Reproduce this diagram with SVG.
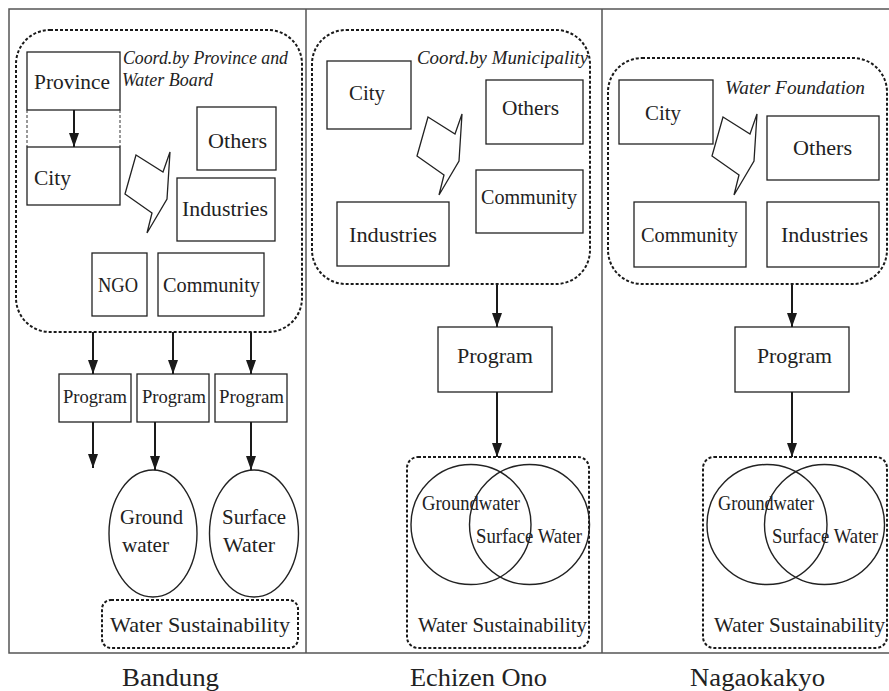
<svg xmlns="http://www.w3.org/2000/svg" width="889" height="691" viewBox="0 0 889 691" font-family="'Liberation Serif', serif">
  <defs>
    <style>
      .frame { fill: none; stroke: #555; stroke-width: 1.5; }
      .box { fill: #fff; stroke: #222; stroke-width: 1.3; }
      .group { fill: none; stroke: #1a1a1a; stroke-width: 2; stroke-dasharray: 3 2; }
      .guide { fill: none; stroke: #333; stroke-width: 1; stroke-dasharray: 3 2; }
      .bolt { fill: #fff; stroke: #222; stroke-width: 1.3; stroke-linejoin: miter; }
      .ring { fill: none; stroke: #222; stroke-width: 1.4; }
      .arrow { stroke: #1a1a1a; stroke-width: 2; fill: none; marker-end: url(#head); }
      text { font-family: 'Liberation Serif', serif; fill: #222; }
      .lbl { font-size: 21px; }
      .small { font-size: 18px; }
      .ital { font-size: 19px; font-style: italic; }
      .city { font-size: 25px; }
    </style>
    <marker id="head" viewBox="0 0 14 10" refX="14" refY="5" markerWidth="14" markerHeight="10" markerUnits="userSpaceOnUse" orient="auto">
      <path d="M0,0 L14,5 L0,10 z" fill="#1a1a1a"/>
    </marker>
    <!-- lightning-bolt symbol for interaction between stakeholders -->
    <polygon id="boltShape" class="bolt" points="136,155 163,172 170,152 167,199 147,233 152,213 125,194"/>
  </defs>

  <!-- outer frame and column dividers -->
  <g id="frame">
    <path class="frame" d="M889,9 H9 V653 H889"/>
    <line class="frame" x1="306" y1="9" x2="306" y2="653"/>
    <line class="frame" x1="602" y1="9" x2="602" y2="653"/>
  </g>

  <!-- ===== Bandung ===== -->
  <g id="bandung-coord">
    <rect class="group" x="16" y="30" width="286" height="302" rx="34" ry="34"/>
    <text class="ital" x="123" y="64" textLength="165" lengthAdjust="spacingAndGlyphs">Coord.by Province and</text>
    <text class="ital" x="122" y="86" textLength="91" lengthAdjust="spacingAndGlyphs">Water Board</text>
  </g>
  <g id="bandung-province">
    <rect class="box" x="27" y="52" width="93" height="58"/>
    <text class="lbl" x="34" y="89" textLength="76" lengthAdjust="spacingAndGlyphs">Province</text>
  </g>
  <g id="bandung-city">
    <line class="guide" x1="27" y1="110" x2="27" y2="147"/>
    <line class="guide" x1="120" y1="110" x2="120" y2="147"/>
    <rect class="box" x="27" y="147" width="93" height="58"/>
    <text class="lbl" x="34" y="185" textLength="37" lengthAdjust="spacingAndGlyphs">City</text>
  </g>
  <g id="bandung-others">
    <rect class="box" x="197" y="107" width="79" height="63"/>
    <text class="lbl" x="208" y="148" textLength="59" lengthAdjust="spacingAndGlyphs">Others</text>
  </g>
  <g id="bandung-industries">
    <rect class="box" x="177" y="178" width="98" height="63"/>
    <text class="lbl" x="182" y="216" textLength="86" lengthAdjust="spacingAndGlyphs">Industries</text>
  </g>
  <g id="bandung-ngo">
    <rect class="box" x="92" y="253" width="55" height="63"/>
    <text class="lbl" x="98" y="292" textLength="40" lengthAdjust="spacingAndGlyphs">NGO</text>
  </g>
  <g id="bandung-community">
    <rect class="box" x="158" y="253" width="106" height="63"/>
    <text class="lbl" x="163" y="292" textLength="97" lengthAdjust="spacingAndGlyphs">Community</text>
  </g>
  <g id="bandung-bolt">
    <use href="#boltShape"/>
  </g>
  <g id="bandung-program-1">
    <rect class="box" x="59" y="374" width="72" height="48"/>
    <text class="small" x="63" y="403" textLength="64" lengthAdjust="spacingAndGlyphs">Program</text>
  </g>
  <g id="bandung-program-2">
    <rect class="box" x="137" y="374" width="72" height="48"/>
    <text class="small" x="142" y="403" textLength="64" lengthAdjust="spacingAndGlyphs">Program</text>
  </g>
  <g id="bandung-program-3">
    <rect class="box" x="215" y="374" width="72" height="48"/>
    <text class="small" x="219" y="403" textLength="65" lengthAdjust="spacingAndGlyphs">Program</text>
  </g>
  <g id="bandung-groundwater">
    <ellipse class="ring" cx="153" cy="533.5" rx="44" ry="63.5"/>
    <text class="lbl" x="120" y="524" textLength="63" lengthAdjust="spacingAndGlyphs">Ground</text>
    <text class="lbl" x="122" y="552" textLength="47" lengthAdjust="spacingAndGlyphs">water</text>
  </g>
  <g id="bandung-surfacewater">
    <ellipse class="ring" cx="254" cy="533.5" rx="44.5" ry="63.5"/>
    <text class="lbl" x="222" y="524" textLength="64" lengthAdjust="spacingAndGlyphs">Surface</text>
    <text class="lbl" x="223" y="552" textLength="52" lengthAdjust="spacingAndGlyphs">Water</text>
  </g>
  <g id="bandung-sustainability">
    <rect class="group" x="102" y="600" width="196" height="48" rx="9" ry="9"/>
    <text class="lbl" x="110" y="632" textLength="180" lengthAdjust="spacingAndGlyphs">Water Sustainability</text>
  </g>
  <g id="bandung-caption">
    <text class="city" x="122" y="686" textLength="97" lengthAdjust="spacingAndGlyphs">Bandung</text>
  </g>

  <!-- ===== Echizen Ono ===== -->
  <g id="echizen-coord">
    <rect class="group" x="312" y="30" width="278" height="254" rx="34" ry="34"/>
    <text class="ital" x="417" y="64" textLength="171" lengthAdjust="spacingAndGlyphs">Coord.by Municipality</text>
  </g>
  <g id="echizen-city">
    <rect class="box" x="327" y="61" width="84" height="68"/>
    <text class="lbl" x="349" y="100" textLength="36" lengthAdjust="spacingAndGlyphs">City</text>
  </g>
  <g id="echizen-others">
    <rect class="box" x="486" y="80" width="97" height="64"/>
    <text class="lbl" x="502" y="115" textLength="57" lengthAdjust="spacingAndGlyphs">Others</text>
  </g>
  <g id="echizen-community">
    <rect class="box" x="476" y="170" width="107" height="63"/>
    <text class="lbl" x="481" y="204" textLength="96" lengthAdjust="spacingAndGlyphs">Community</text>
  </g>
  <g id="echizen-industries">
    <rect class="box" x="337" y="202" width="112" height="64"/>
    <text class="lbl" x="349" y="242" textLength="88" lengthAdjust="spacingAndGlyphs">Industries</text>
  </g>
  <g id="echizen-bolt">
    <use href="#boltShape" transform="translate(292,-38)"/>
  </g>
  <g id="echizen-program">
    <rect class="box" x="438" y="327" width="114" height="65"/>
    <text class="lbl" x="457" y="363" textLength="76" lengthAdjust="spacingAndGlyphs">Program</text>
  </g>
  <g id="echizen-sustainability">
    <rect class="group" x="407" y="457" width="182" height="191" rx="11" ry="11"/>
    <circle class="ring" cx="471" cy="524.5" r="60"/>
    <circle class="ring" cx="529.5" cy="524.5" r="60"/>
    <text class="lbl" x="422" y="510" textLength="98" lengthAdjust="spacingAndGlyphs">Groundwater</text>
    <text class="lbl" x="476" y="543" textLength="106" lengthAdjust="spacingAndGlyphs">Surface Water</text>
    <text class="lbl" x="418" y="632" textLength="169" lengthAdjust="spacingAndGlyphs">Water Sustainability</text>
  </g>
  <g id="echizen-caption">
    <text class="city" x="410" y="686" textLength="137" lengthAdjust="spacingAndGlyphs">Echizen Ono</text>
  </g>

  <!-- ===== Nagaokakyo ===== -->
  <g id="nagaokakyo-coord">
    <rect class="group" x="608" y="58" width="279" height="226" rx="34" ry="34"/>
    <text class="ital" x="725" y="94" textLength="140" lengthAdjust="spacingAndGlyphs">Water Foundation</text>
  </g>
  <g id="nagaokakyo-city">
    <rect class="box" x="619" y="80" width="94" height="64"/>
    <text class="lbl" x="645" y="120" textLength="36" lengthAdjust="spacingAndGlyphs">City</text>
  </g>
  <g id="nagaokakyo-others">
    <rect class="box" x="767" y="116" width="112" height="64"/>
    <text class="lbl" x="793" y="155" textLength="59" lengthAdjust="spacingAndGlyphs">Others</text>
  </g>
  <g id="nagaokakyo-community">
    <rect class="box" x="634" y="202" width="112" height="65"/>
    <text class="lbl" x="641" y="242" textLength="97" lengthAdjust="spacingAndGlyphs">Community</text>
  </g>
  <g id="nagaokakyo-industries">
    <rect class="box" x="767" y="202" width="112" height="65"/>
    <text class="lbl" x="781" y="242" textLength="87" lengthAdjust="spacingAndGlyphs">Industries</text>
  </g>
  <g id="nagaokakyo-bolt">
    <use href="#boltShape" transform="translate(587,-38)"/>
  </g>
  <g id="nagaokakyo-program">
    <rect class="box" x="735" y="327" width="114" height="65"/>
    <text class="lbl" x="757" y="363" textLength="75" lengthAdjust="spacingAndGlyphs">Program</text>
  </g>
  <g id="nagaokakyo-sustainability">
    <rect class="group" x="703" y="457" width="184" height="191" rx="11" ry="11"/>
    <circle class="ring" cx="767" cy="524.5" r="60"/>
    <circle class="ring" cx="824.5" cy="524.5" r="60"/>
    <text class="lbl" x="718" y="510" textLength="96" lengthAdjust="spacingAndGlyphs">Groundwater</text>
    <text class="lbl" x="772" y="543" textLength="106" lengthAdjust="spacingAndGlyphs">Surface Water</text>
    <text class="lbl" x="714" y="632" textLength="171" lengthAdjust="spacingAndGlyphs">Water Sustainability</text>
  </g>
  <g id="nagaokakyo-caption">
    <text class="city" x="690" y="686" textLength="135" lengthAdjust="spacingAndGlyphs">Nagaokakyo</text>
  </g>

  <!-- connectors -->
  <g id="connectors">
    <line class="arrow" x1="74" y1="110" x2="74" y2="147"/>
    <line class="arrow" x1="93" y1="332" x2="93" y2="374"/>
    <line class="arrow" x1="173" y1="332" x2="173" y2="374"/>
    <line class="arrow" x1="251" y1="332" x2="251" y2="374"/>
    <line class="arrow" x1="93" y1="422" x2="93" y2="468"/>
    <line class="arrow" x1="155" y1="422" x2="155" y2="470"/>
    <line class="arrow" x1="251" y1="422" x2="251" y2="470"/>
    <line class="arrow" x1="497" y1="284" x2="497" y2="327"/>
    <line class="arrow" x1="497" y1="392" x2="497" y2="457"/>
    <line class="arrow" x1="792" y1="284" x2="792" y2="327"/>
    <line class="arrow" x1="792" y1="392" x2="792" y2="457"/>
  </g>
</svg>
